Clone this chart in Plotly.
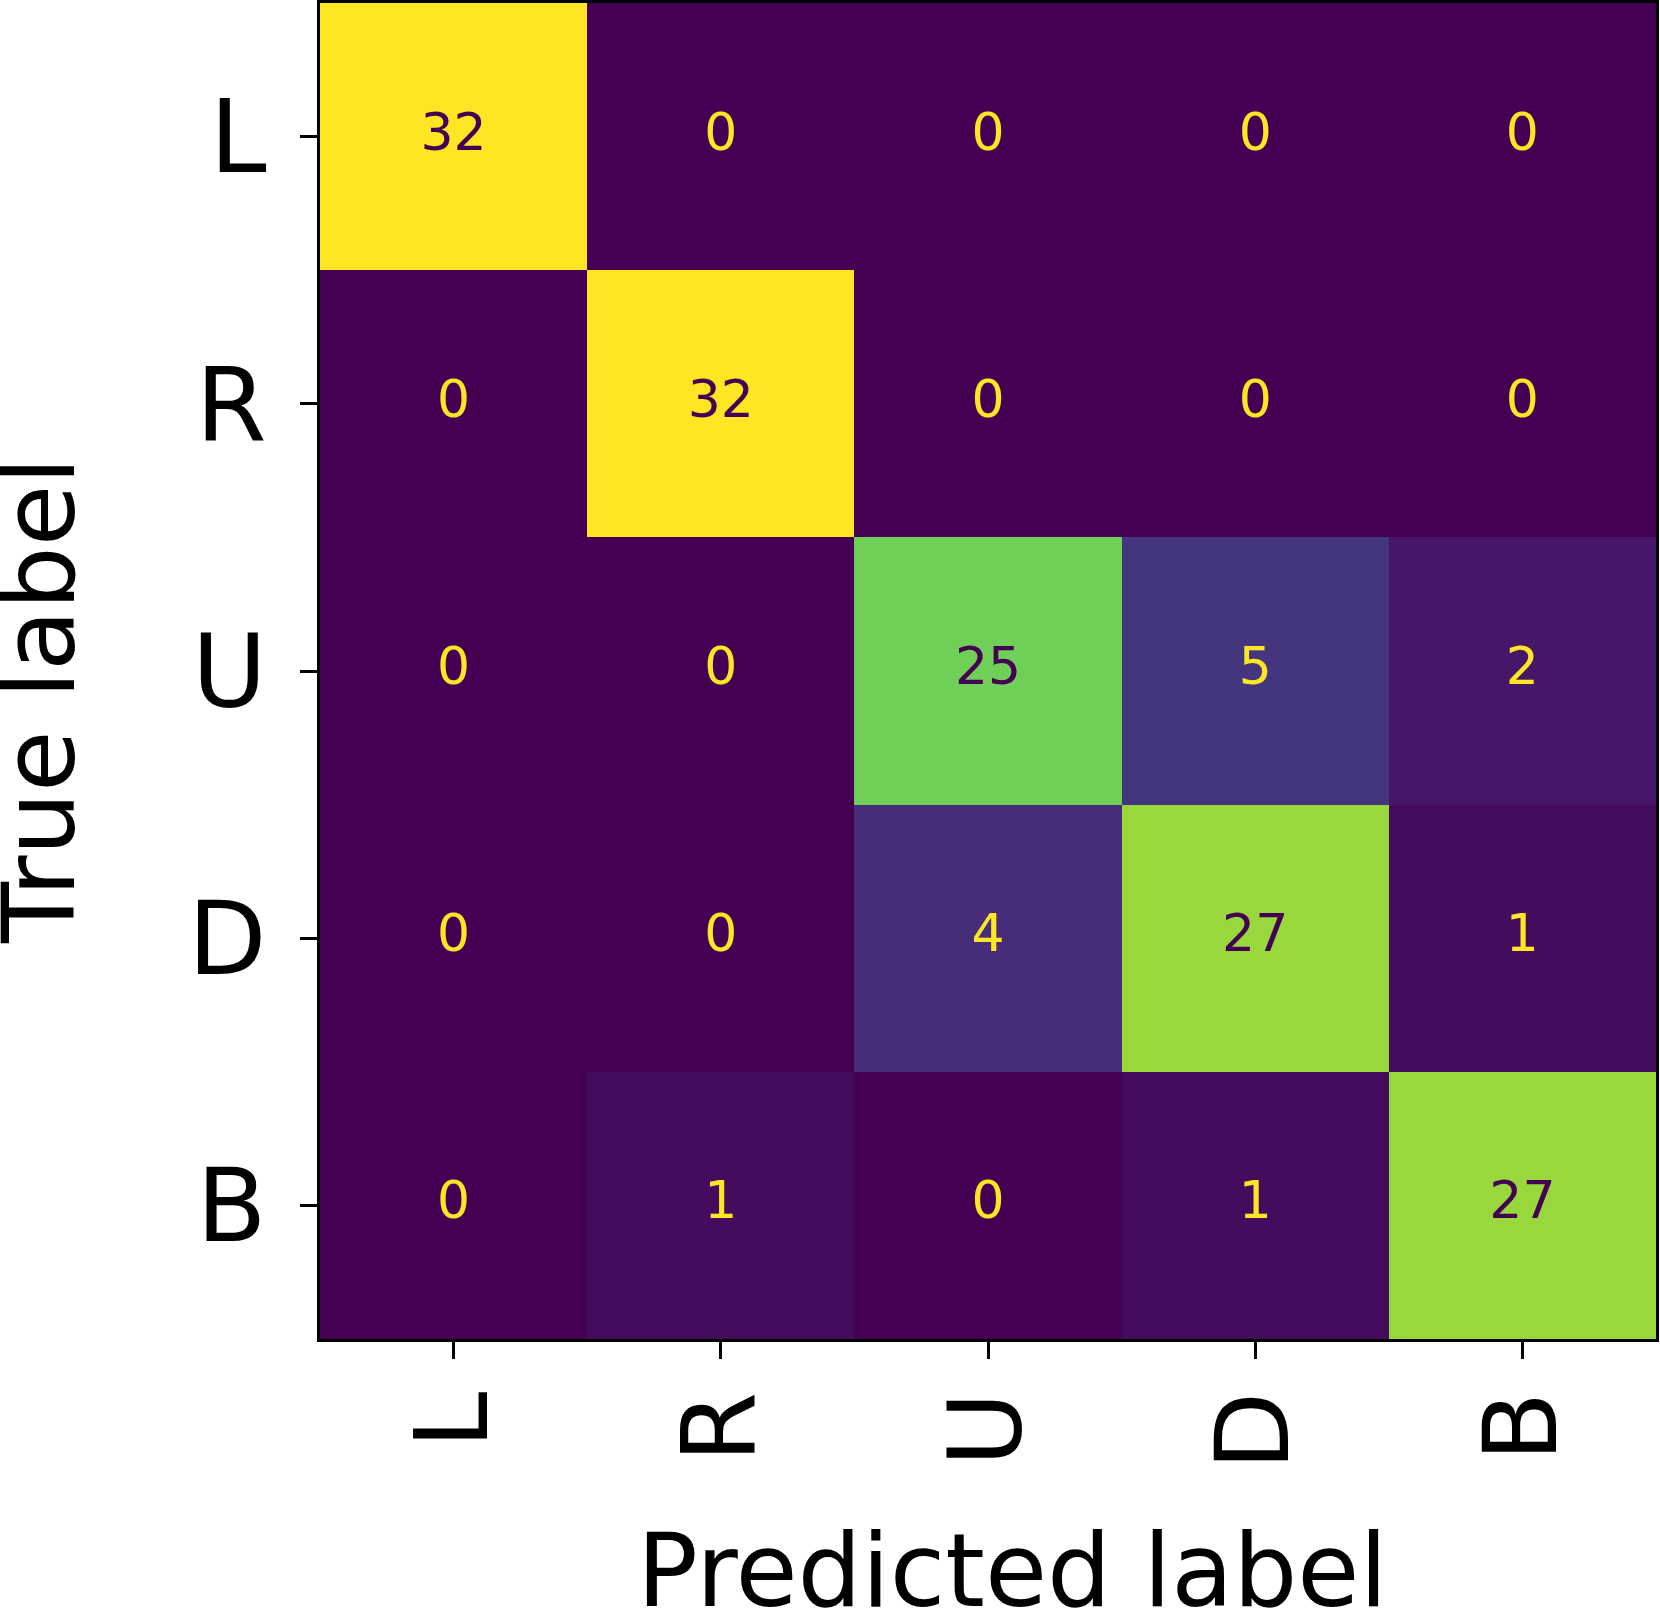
import plotly.graph_objects as go

# confusion matrix values (rows = true label, cols = predicted label)
labels = ["L", "R", "U", "D", "B"]
row_L = [32, 0, 0, 0, 0]
row_R = [0, 32, 0, 0, 0]
row_U = [0, 0, 25, 5, 2]
row_D = [0, 0, 4, 27, 1]
row_B = [0, 1, 0, 1, 27]
matrix = [row_L, row_R, row_U, row_D, row_B]

FONT = "DejaVu Sans"
zmax = max(max(r) for r in matrix)
thresh = zmax / 2.0

fig = go.Figure()
fig.add_trace(go.Heatmap(
    z=matrix, x=labels, y=labels,
    colorscale="Viridis", zmin=0, zmax=zmax,
    showscale=False, hoverinfo="skip",
))

# cell counts, dark text on bright cells like sklearn does
tx, ty, tt, tc = [], [], [], []
for i, row in enumerate(matrix):
    for j, v in enumerate(row):
        tx.append(labels[j])
        ty.append(labels[i])
        tt.append(str(v))
        tc.append("#440154" if v >= thresh else "#fde725")
fig.add_trace(go.Scatter(
    x=tx, y=ty, text=tt, mode="text",
    textfont=dict(family=FONT, size=52, color=tc),
    hoverinfo="skip", showlegend=False,
))

axis_common = dict(
    showline=True, linecolor="black", linewidth=3, mirror=True,
    ticks="outside", ticklen=17, tickwidth=3, tickcolor="black",
    tickfont=dict(family=FONT, size=102, color="black"),
    showgrid=False, zeroline=False, automargin=False,
)
fig.update_xaxes(**axis_common, tickangle=-90, ticklabelstandoff=-8)
fig.update_yaxes(**axis_common, autorange="reversed", ticklabelstandoff=13)

fig.add_annotation(text="Predicted label", xref="paper", yref="paper",
                   x=0.518, y=-0.1737, xanchor="center", yanchor="middle",
                   showarrow=False, font=dict(family=FONT, size=101, color="black"))
fig.add_annotation(text="True label", xref="paper", yref="paper",
                   x=-0.2096, y=0.4783, textangle=-90,
                   xanchor="center", yanchor="middle",
                   showarrow=False, font=dict(family=FONT, size=100, color="black"))

fig.update_layout(
    width=1660, height=1610,
    margin=dict(l=320, r=4, t=3, b=271),
    plot_bgcolor="white", paper_bgcolor="white",
    showlegend=False,
)

# drop the default page margin so the figure fills the window
fig.write_html("out.html", config={"displayModeBar": False},
               post_script="document.body.style.margin='0';")
